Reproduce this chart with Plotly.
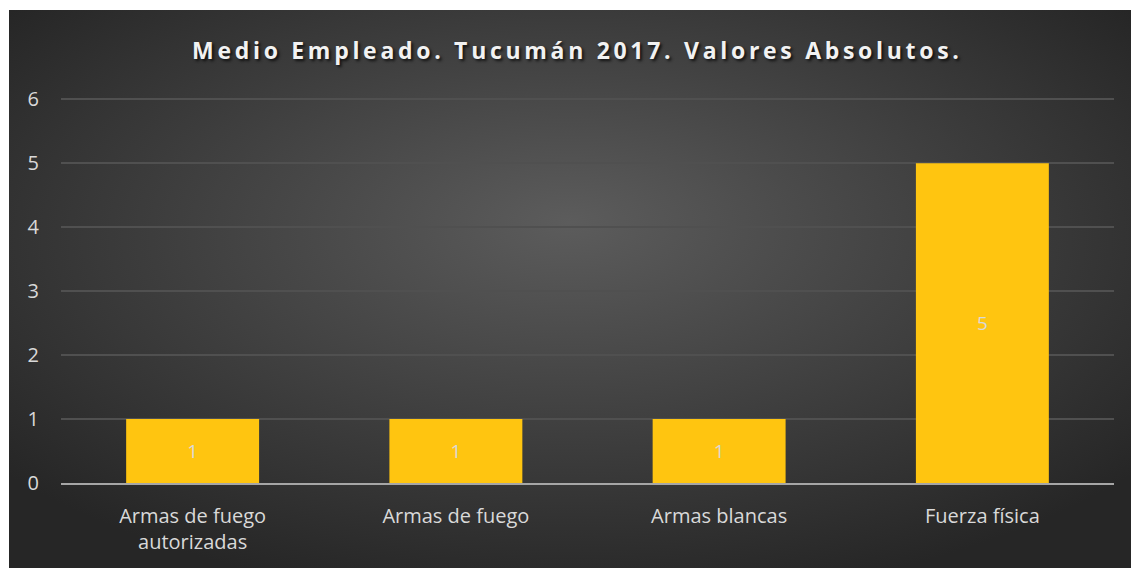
import base64
import plotly.graph_objects as go

categories = ["Armas de fuego<br>autorizadas", "Armas de fuego", "Armas blancas", "Fuerza física"]
values = [1, 1, 1, 5]
y_ticks = [0, 1, 2, 3, 4, 5, 6]
title_text = "Medio Empleado. Tucumán 2017. Valores Absolutos."

# radial gradient panel background (SVG data URI)
svg = (
    '<svg xmlns="http://www.w3.org/2000/svg" width="1121" height="558" viewBox="0 0 1121 558" preserveAspectRatio="none">'
    '<defs><radialGradient id="g" cx="50%" cy="42%" r="65%" fx="50%" fy="38%">'
    '<stop offset="0%" stop-color="#5c5c5c"/>'
    '<stop offset="100%" stop-color="#262626"/>'
    '</radialGradient></defs>'
    '<rect width="1121" height="558" fill="url(#g)"/></svg>'
)
bg_src = "data:image/svg+xml;base64," + base64.b64encode(svg.encode()).decode()

PL, PR, PT, PB = 61, 1114, 96, 483
W, H = 1131, 568
pw, ph = PR - PL, PB - PT


def px_x(px):
    return (px - PL) / pw


def px_y(py):
    return (PB - py) / ph


font_family = "Open Sans, sans-serif"

fig = go.Figure()
fig.add_trace(go.Bar(
    x=categories,
    y=values,
    marker=dict(color="#ffc510", line=dict(width=0)),
    text=[str(v) for v in values],
    textposition="inside",
    insidetextanchor="middle",
    textfont=dict(family=font_family, size=19, color="#d9d9d9"),
    hoverinfo="skip",
))

fig.add_layout_image(dict(
    source=bg_src,
    xref="paper", yref="paper",
    x=px_x(9), y=px_y(10),
    sizex=px_x(1131) - px_x(9), sizey=px_y(10) - px_y(568),
    xanchor="left", yanchor="top",
    sizing="stretch", layer="below",
))

fig.add_annotation(
    text='<span style="letter-spacing:3.7px">' + title_text + '</span>',
    xref="paper", yref="paper",
    x=px_x(577), y=px_y(50),
    xanchor="center", yanchor="middle",
    showarrow=False,
    font=dict(family=font_family, size=23, color="#f2f2f2", weight="bold",
              shadow="2px 2px 3px rgba(0,0,0,0.75)"),
)

fig.update_layout(
    width=W, height=H,
    margin=dict(l=PL, r=W - PR, t=PT, b=H - PB, pad=0),
    paper_bgcolor="white",
    plot_bgcolor="rgba(0,0,0,0)",
    bargap=0.495,
    showlegend=False,
    xaxis=dict(
        showgrid=False,
        showline=True, linecolor="#a6a6a6", linewidth=2,
        ticks="", ticklabelstandoff=14,
        tickfont=dict(family=font_family, size=20, color="#d9d9d9"),
        zeroline=False,
    ),
    yaxis=dict(
        range=[0, 6.05],
        tickvals=y_ticks,
        showgrid=True, gridcolor="#505050", gridwidth=1.5,
        zeroline=False, showline=False,
        ticks="", ticklabelstandoff=21,
        tickfont=dict(family=font_family, size=20, color="#d9d9d9"),
    ),
)

fig.write_html("out.html")
